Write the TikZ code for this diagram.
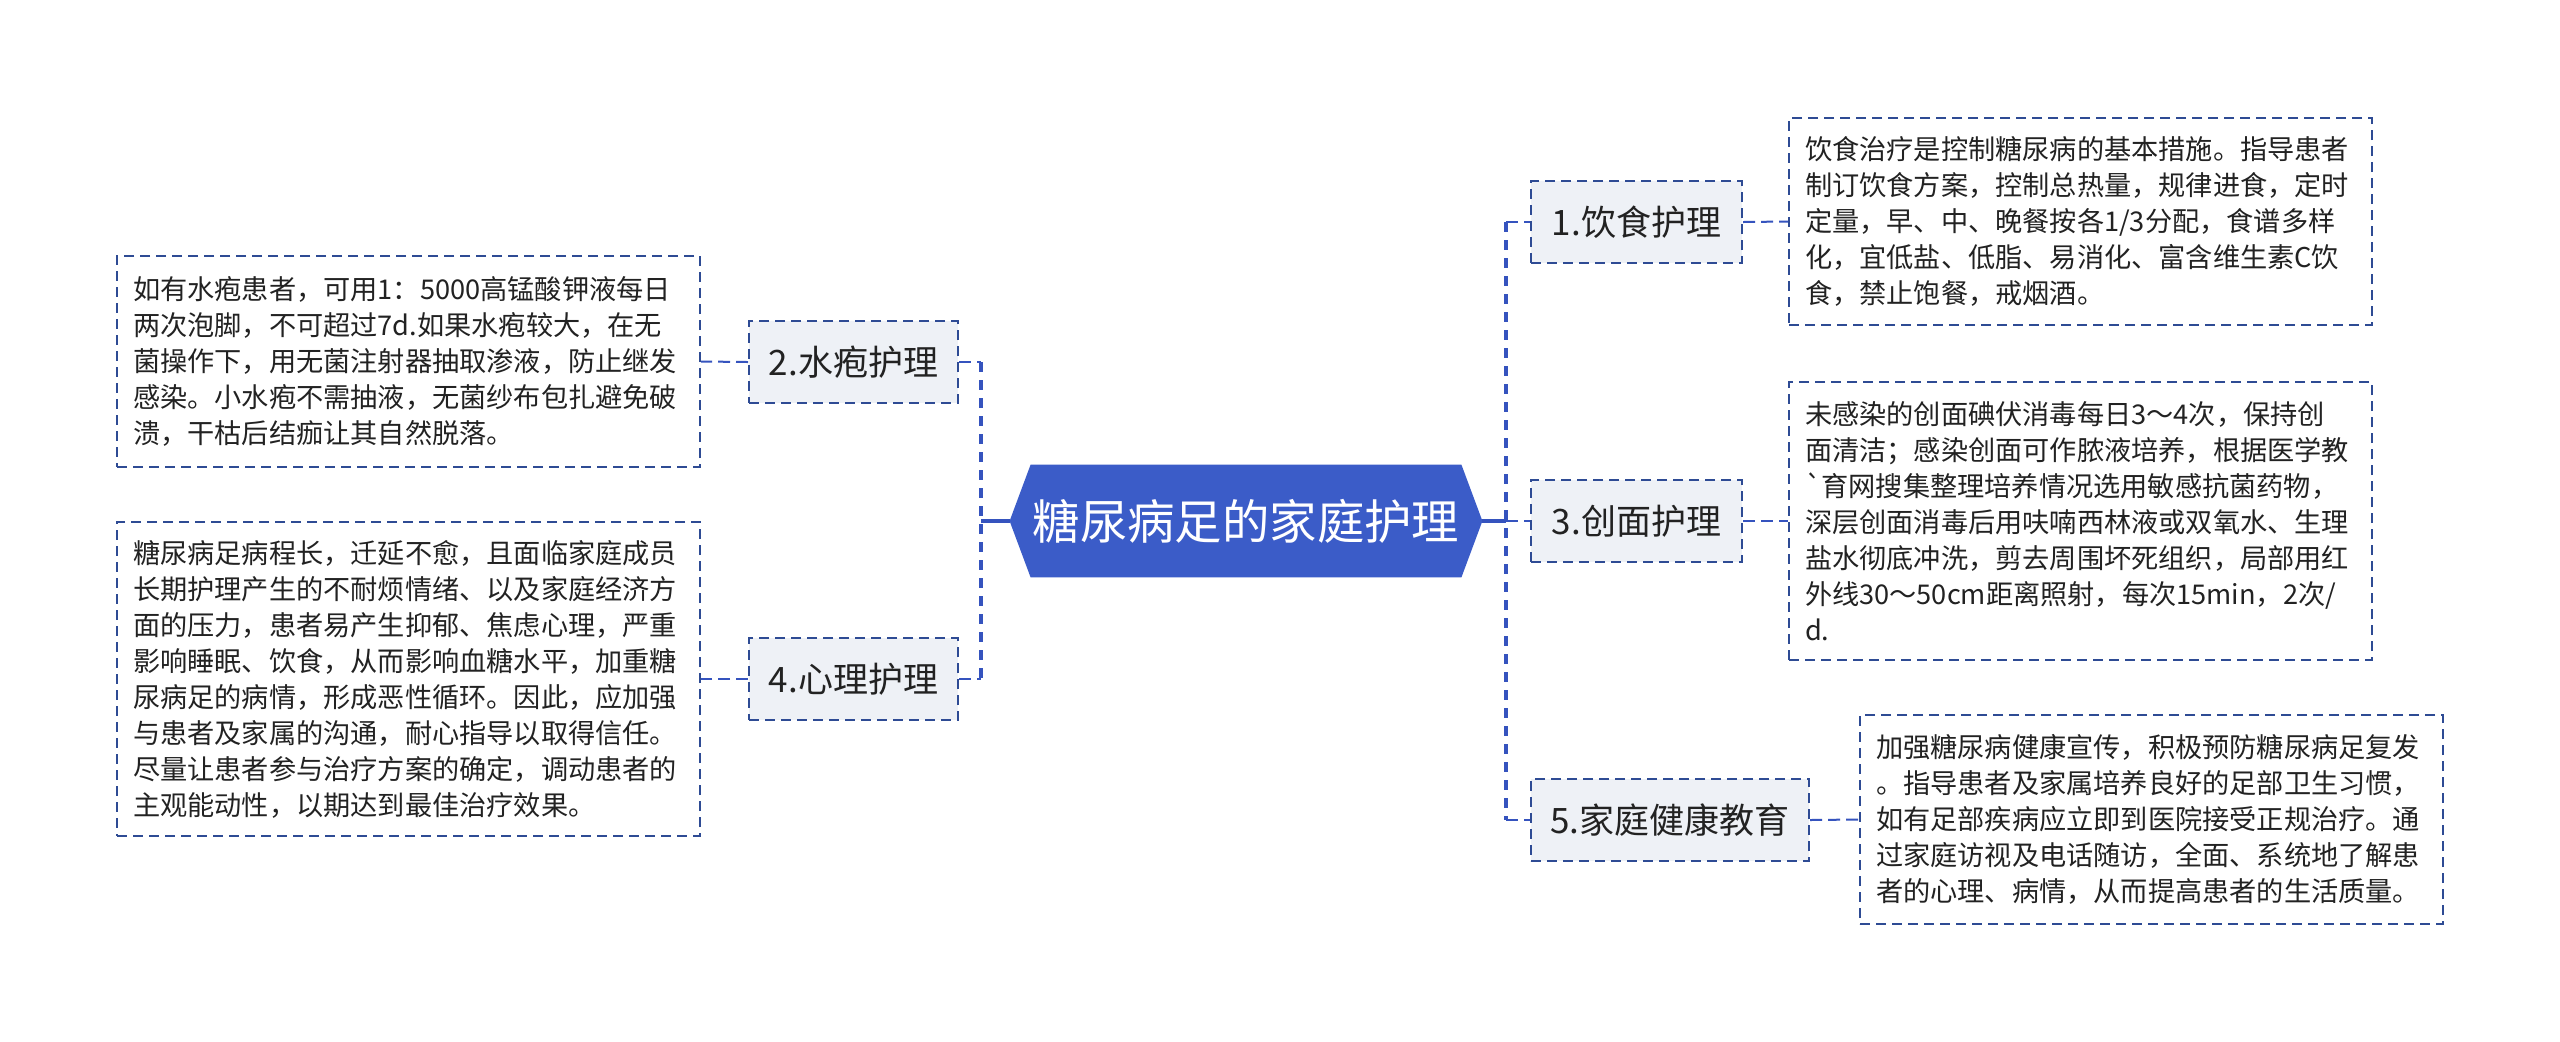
\documentclass[tikz,border=0pt]{standalone}
\usepackage{fontspec}
\setmainfont{Noto Sans CJK SC}
\definecolor{hexblue}{HTML}{3B5CC8}
\definecolor{lineblue}{HTML}{3553BE}
\definecolor{boxborder}{HTML}{2E4B94}
\definecolor{branchfill}{HTML}{EEF1F6}
\definecolor{txt}{HTML}{222222}
\pgfdeclarelayer{bg}
\pgfsetlayers{bg,main}
\tikzset{
  detailbox/.style={draw=boxborder, line width=1pt, dash pattern=on 5pt off 3pt, fill=white,
    align=left, text width=275.5pt, inner xsep=8pt, inner ysep=5pt,
    font=\fontsize{13.6pt}{18pt}\selectfont, text=txt},
  branchbox/.style={draw=boxborder, line width=1pt, dash pattern=on 5pt off 3pt, fill=branchfill,
    font=\fontsize{17.5pt}{21pt}\selectfont, text=txt, minimum height=41pt, inner xsep=0pt},
  rootbox/.style={minimum width=236pt, minimum height=56pt, text=white, inner sep=0pt,
    font=\fontsize{23.7pt}{28pt}\selectfont},
  rootline/.style={draw=lineblue, line width=1.6pt},
  trunkline/.style={draw=lineblue, line width=2pt, dash pattern=on 5pt off 4pt},
  branchline/.style={draw=lineblue, line width=1.3pt, dash pattern=on 6pt off 3pt},
  leafline/.style={draw=lineblue, line width=1pt, dash pattern=on 6pt off 3pt}
}
\begin{document}
\begin{tikzpicture}[x=0.5pt,y=-0.5pt]
\useasboundingbox (0,0) rectangle (2560,1041);
\begin{pgfonlayer}{bg}
\fill[white] (0,0) rectangle (2560,1041);
\end{pgfonlayer}

\node[rootbox] (c) at (1246,521) {糖尿病足的家庭护理};
\begin{pgfonlayer}{bg}
\fill[hexblue] (c.west) -- ([xshift=10.5pt]c.north west) -- ([xshift=-10.5pt]c.north east) -- (c.east) -- ([xshift=-10.5pt]c.south east) -- ([xshift=10.5pt]c.south west) -- cycle;
\end{pgfonlayer}

\coordinate (L) at (981,521);
\coordinate (R) at (1506,521);

\node[branchbox, minimum width=105.5pt] (b1) at (1636.5,222) {1.饮食护理};
\node[branchbox, minimum width=105.5pt] (b3) at (1636.5,521) {3.创面护理};
\node[branchbox, minimum width=139pt] (b5) at (1670,820) {5.家庭健康教育};
\node[branchbox, minimum width=104.5pt] (b2) at (853.5,362) {2.水疱护理};
\node[branchbox, minimum width=104.5pt] (b4) at (853.5,679) {4.心理护理};

\node[detailbox, minimum height=103.5pt] (d1) at (2080.5,221.5) {饮食治疗是控制糖尿病的基本措施。指导患者\\制订饮食方案，控制总热量，规律进食，定时\\定量，早、中、晚餐按各1/3分配，食谱多样\\化，宜低盐、低脂、易消化、富含维生素C饮\\食，禁止饱餐，戒烟酒。};
\node[detailbox, minimum height=139pt] (d3) at (2080.5,521) {未感染的创面碘伏消毒每日3～4次，保持创\\面清洁；感染创面可作脓液培养，根据医学教\\\textasciigrave 育网搜集整理培养情况选用敏感抗菌药物，\\深层创面消毒后用呋喃西林液或双氧水、生理\\盐水彻底冲洗，剪去周围坏死组织，局部用红\\外线30～50cm距离照射，每次15min，2次/\\d.};
\node[detailbox, minimum height=104.5pt] (d5) at (2151.5,819.5) {加强糖尿病健康宣传，积极预防糖尿病足复发\\。指导患者及家属培养良好的足部卫生习惯，\\如有足部疾病应立即到医院接受正规治疗。通\\过家庭访视及电话随访，全面、系统地了解患\\者的心理、病情，从而提高患者的生活质量。};
\node[detailbox, minimum height=105.5pt] (d2) at (408.5,361.5) {如有水疱患者，可用1：5000高锰酸钾液每日\\两次泡脚，不可超过7d.如果水疱较大，在无\\菌操作下，用无菌注射器抽取渗液，防止继发\\感染。小水疱不需抽液，无菌纱布包扎避免破\\溃，干枯后结痂让其自然脱落。};
\node[detailbox, minimum height=157pt] (d4) at (408.5,679) {糖尿病足病程长，迁延不愈，且面临家庭成员\\长期护理产生的不耐烦情绪、以及家庭经济方\\面的压力，患者易产生抑郁、焦虑心理，严重\\影响睡眠、饮食，从而影响血糖水平，加重糖\\尿病足的病情，形成恶性循环。因此，应加强\\与患者及家属的沟通，耐心指导以取得信任。\\尽量让患者参与治疗方案的确定，调动患者的\\主观能动性，以期达到最佳治疗效果。};

\draw[rootline] (c.west) -- (L);
\draw[rootline] (c.east) -- (R);
\draw[trunkline] (b2.east -| L) -- (b4.east -| L);
\draw[trunkline] (b1.west -| R) -- (b5.west -| R);
\draw[branchline] (b2.east) -- (b2.east -| L);
\draw[branchline] (b4.east) -- (b4.east -| L);
\draw[branchline] (b1.west -| R) -- (b1.west);
\draw[branchline] (b3.west -| R) -- (b3.west);
\draw[branchline] (b5.west -| R) -- (b5.west);
\draw[leafline] (b1.east) -- (d1.west);
\draw[leafline] (b3.east) -- (d3.west);
\draw[leafline] (b5.east) -- (d5.west);
\draw[leafline] (b2.west) -- (d2.east);
\draw[leafline] (b4.west) -- (d4.east);
\end{tikzpicture}
\end{document}
